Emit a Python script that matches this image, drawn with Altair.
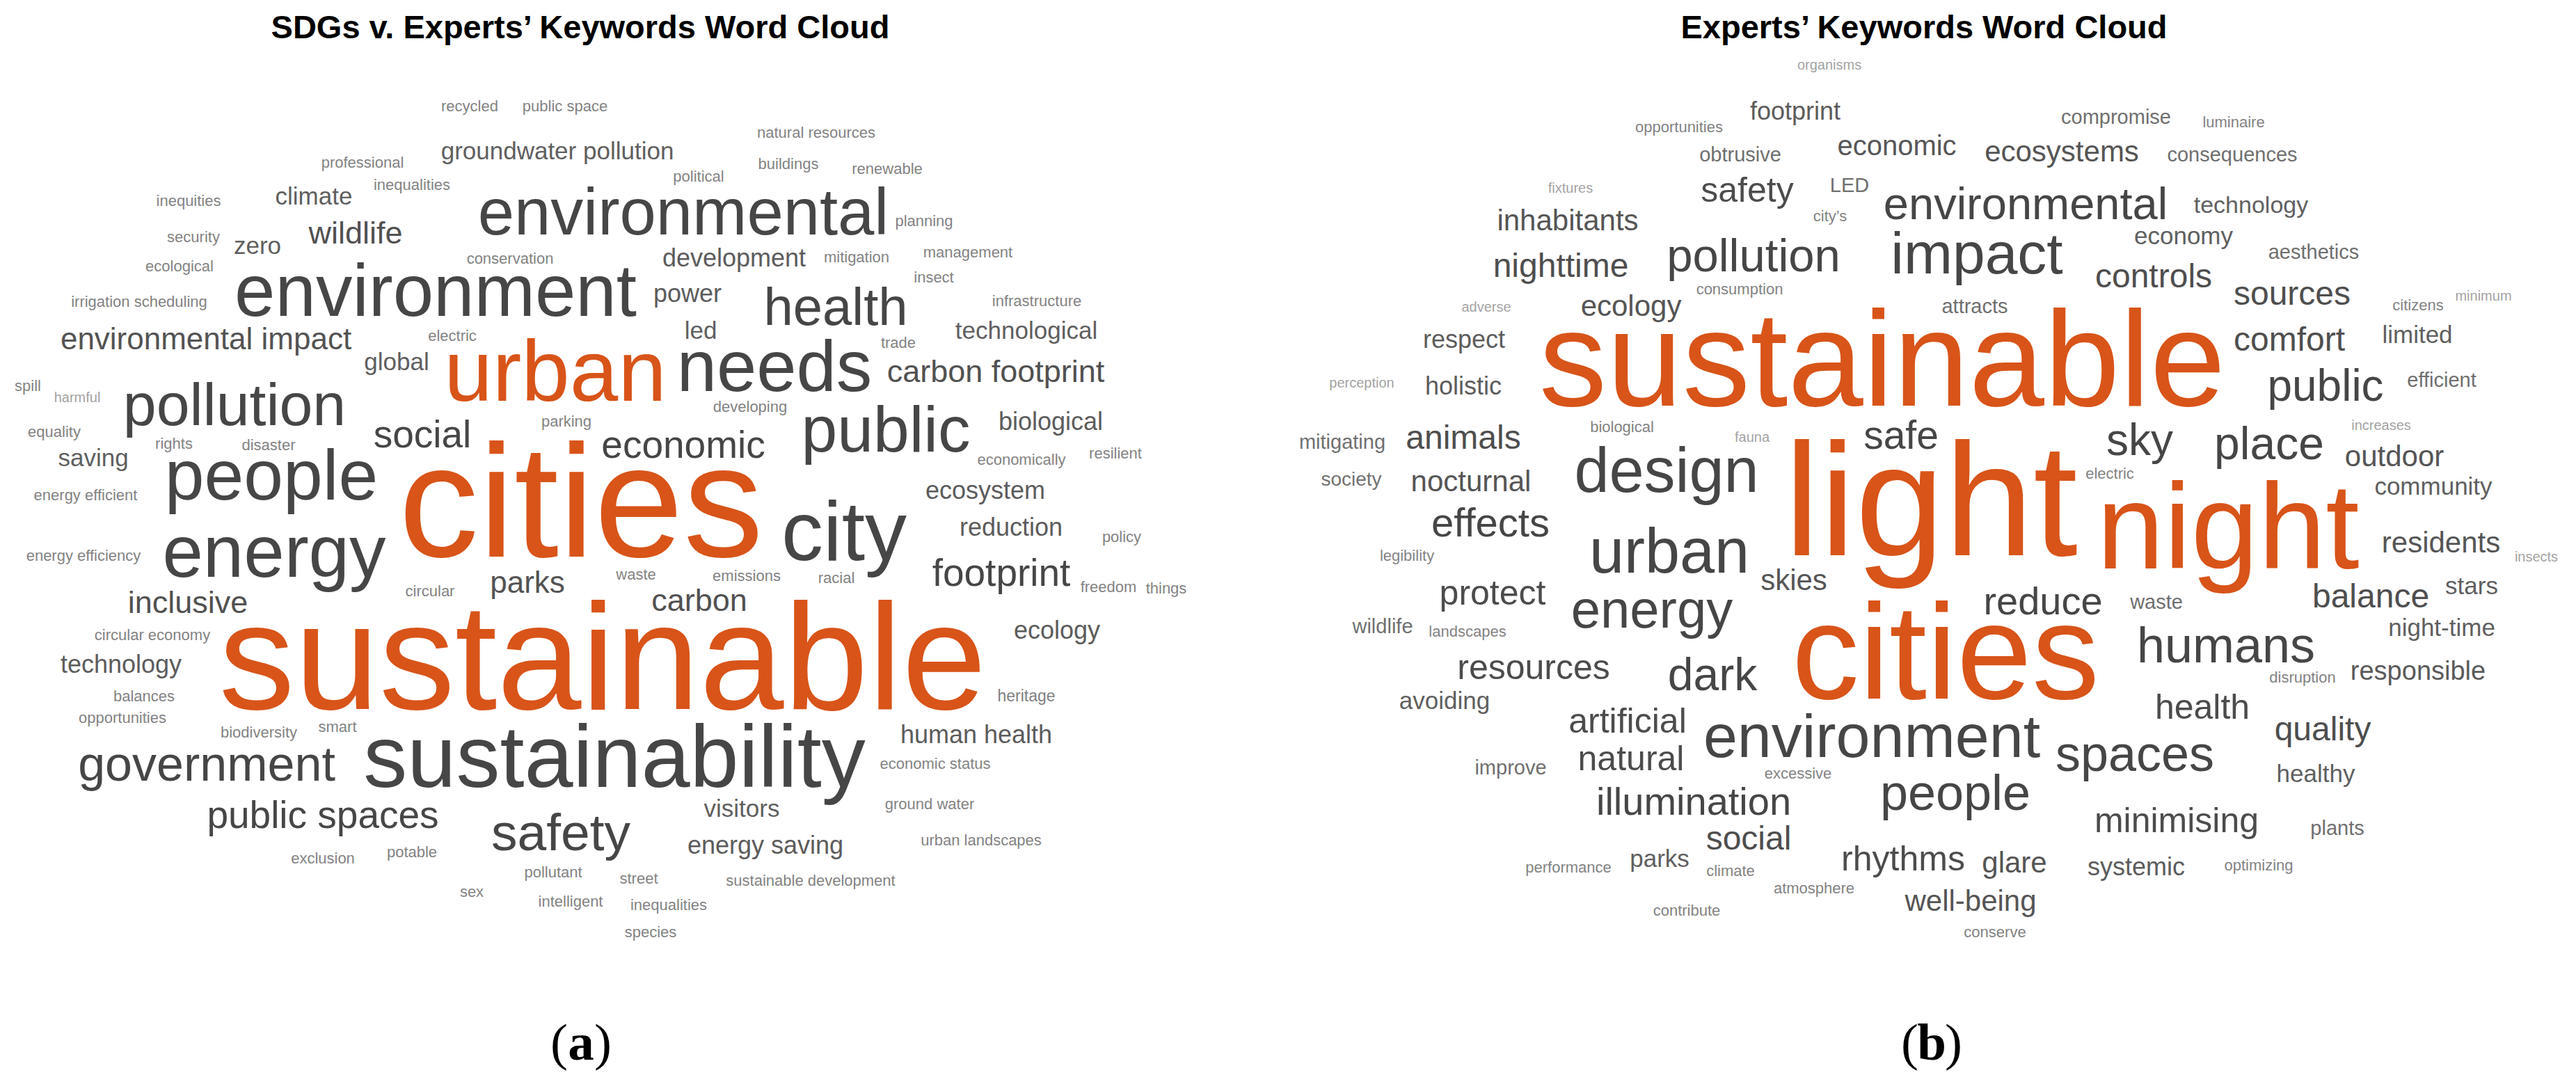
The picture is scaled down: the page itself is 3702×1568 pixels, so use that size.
import altair as alt
import pandas as pd

# ---------------- Panel (a): SDGs v. Experts' keywords ----------------
a_words = ["recycled", "public space", "groundwater pollution", "professional", "inequalities",
           "inequities", "climate", "environmental", "wildlife", "security", "zero", "ecological",
           "conservation", "environment", "irrigation scheduling", "environmental impact", "electric",
           "global", "urban", "spill", "harmful", "pollution", "parking", "social", "equality",
           "rights", "disaster", "saving", "people", "cities", "sustainable", "sustainability",
           "natural resources", "buildings", "renewable", "political", "planning", "development",
           "mitigation", "management", "insect", "power", "health", "infrastructure", "led",
           "technological", "trade", "needs", "carbon footprint", "developing", "public",
           "biological", "economic", "economically", "resilient", "ecosystem", "energy efficient",
           "energy efficiency", "energy", "circular", "parks", "inclusive", "circular economy",
           "technology", "balances", "opportunities", "biodiversity", "smart", "government",
           "public spaces", "safety", "exclusion", "potable", "pollutant", "sex", "intelligent",
           "city", "reduction", "policy", "waste", "emissions", "racial", "footprint", "freedom",
           "things", "carbon", "ecology", "heritage", "human health", "economic status", "visitors",
           "ground water", "energy saving", "urban landscapes", "street", "sustainable development",
           "inequalities", "species"]
a_x = [675, 812, 801, 521, 592, 271, 451, 982, 511, 278, 370, 258, 733, 626, 200, 296, 650, 570,
       798, 40, 111, 337, 814, 607, 78, 250, 386, 134, 390, 835, 866, 883, 1173, 1133, 1275, 1004,
       1328, 1055, 1231, 1391, 1342, 988, 1201, 1490, 1007, 1475, 1291, 1113, 1431, 1078, 1273,
       1510, 982, 1468, 1603, 1416, 123, 120, 394, 618, 758, 270, 219, 174, 207, 176, 372, 485,
       297, 464, 806, 464, 592, 795, 678, 820, 1213, 1453, 1612, 914, 1073, 1202, 1439, 1593,
       1676, 1005, 1519, 1475, 1403, 1344, 1066, 1336, 1100, 1410, 918, 1165, 961, 935]
a_y = [160, 160, 229, 241, 273, 296, 294, 337, 350, 348, 365, 390, 379, 454, 441, 502, 490, 532,
       576, 562, 578, 611, 613, 643, 628, 645, 647, 670, 718, 800, 1019, 1131, 198, 243, 250, 261,
       325, 383, 377, 370, 406, 434, 467, 440, 487, 487, 500, 562, 549, 592, 649, 618, 658, 668,
       659, 717, 719, 806, 829, 857, 852, 881, 920, 967, 1008, 1039, 1060, 1052, 1122, 1190, 1222,
       1241, 1232, 1261, 1289, 1303, 805, 770, 779, 833, 835, 838, 842, 851, 853, 878, 918, 1008,
       1068, 1105, 1174, 1163, 1227, 1215, 1270, 1273, 1308, 1347]
a_w = [22, 22, 35, 22, 22, 22, 35, 94, 45, 22, 35, 22, 22, 105, 22, 44, 22, 35, 125, 22, 20, 86,
       22, 55, 22, 22, 22, 35, 102, 230, 218, 126, 22, 22, 22, 22, 22, 36, 22, 22, 22, 36, 76, 22,
       35, 35, 22, 103, 45, 22, 93, 36, 55, 22, 22, 36, 22, 22, 105, 22, 44, 45, 22, 36, 22, 22,
       22, 22, 70, 55, 75, 22, 22, 22, 22, 22, 120, 36, 22, 22, 22, 22, 55, 22, 22, 45, 36, 23,
       36, 22, 35, 22, 36, 22, 22, 22, 22, 22]
a_accent = ["sustainable", "cities", "urban"]

# ---------------- Panel (b): Experts' keywords ----------------
b_words = ["organisms", "footprint", "opportunities", "obtrusive", "economic", "compromise",
           "luminaire", "ecosystems", "consequences", "fixtures", "safety", "LED", "city’s",
           "environmental", "technology", "inhabitants", "economy", "aesthetics", "impact",
           "nighttime", "pollution", "controls", "sources", "consumption", "adverse", "ecology",
           "attracts", "citizens", "minimum", "respect", "comfort", "limited", "sustainable",
           "perception", "holistic", "public", "efficient", "biological", "fauna", "increases",
           "mitigating", "animals", "safe", "sky", "place", "outdoor", "electric", "society",
           "nocturnal", "design", "community", "light", "night", "effects", "legibility", "urban",
           "residents", "insects", "skies", "stars", "protect", "reduce", "waste", "balance",
           "energy", "wildlife", "landscapes", "night-time", "humans", "resources", "dark",
           "disruption", "responsible", "cities", "avoiding", "health", "artificial", "quality",
           "environment", "natural", "improve", "excessive", "spaces", "healthy", "illumination",
           "people", "minimising", "plants", "social", "parks", "performance", "climate",
           "rhythms", "glare", "systemic", "optimizing", "atmosphere", "well-being", "contribute",
           "conserve"]
b_x = [2629, 2580, 2413, 2501, 2726, 3041, 3210, 2963, 3208, 2257, 2511, 2658, 2630, 2911, 3235,
       2253, 3138, 3325, 2841, 2243, 2520, 3095, 3294, 2500, 2136, 2344, 2838, 3475, 3569, 2104,
       3290, 3474, 2705, 1957, 2103, 3342, 3509, 2331, 2518, 3422, 1929, 2103, 2732, 3075, 3261,
       3441, 3032, 1942, 2114, 2395, 3497, 2775, 3202, 2142, 2022, 2399, 3508, 3645, 2578, 3552,
       2145, 2936, 3099, 3407, 2374, 1987, 2109, 3509, 3199, 2204, 2461, 3309, 3475, 2796, 2076,
       3165, 2339, 3338, 2690, 2344, 2171, 2584, 3068, 3328, 2434, 2810, 3128, 3359, 2513, 2385,
       2254, 2487, 2735, 2895, 3070, 3246, 2607, 2832, 2424, 2867]
b_y = [100, 172, 190, 232, 223, 178, 183, 232, 232, 277, 290, 276, 318, 315, 306, 331, 351, 372,
       393, 398, 390, 413, 438, 423, 448, 454, 450, 446, 432, 500, 504, 493, 583, 557, 567, 576,
       556, 621, 635, 618, 645, 645, 645, 654, 660, 670, 688, 698, 706, 707, 711, 798, 817, 771,
       806, 823, 794, 807, 848, 854, 869, 883, 875, 873, 902, 910, 915, 914, 952, 976, 992, 981,
       977, 1004, 1019, 1033, 1053, 1064, 1088, 1107, 1113, 1119, 1108, 1124, 1171, 1164, 1196,
       1200, 1221, 1246, 1254, 1259, 1251, 1254, 1258, 1251, 1284, 1309, 1316, 1347]
b_w = [20, 36, 22, 29, 40, 29, 22, 42, 29, 20, 50, 29, 22, 65, 34, 42, 35, 29, 84, 48, 67, 48,
       48, 22, 20, 42, 29, 22, 20, 36, 48, 35, 195, 20, 36, 64, 29, 22, 20, 20, 29, 48, 57, 64,
       66, 42, 22, 28, 42, 90, 35, 230, 174, 58, 22, 90, 42, 20, 42, 35, 50, 56, 29, 48, 76, 29,
       22, 35, 72, 50, 66, 22, 38, 194, 35, 50, 50, 48, 88, 50, 29, 22, 72, 35, 56, 72, 50, 29,
       48, 35, 22, 22, 50, 42, 36, 22, 22, 42, 22, 22]
b_accent = ["sustainable", "light", "night", "cities"]

# ---------------- Titles and panel labels ----------------
titles = ["SDGs v. Experts’ Keywords Word Cloud", "Experts’ Keywords Word Cloud"]
title_x = [834, 2765]
title_y = [55, 55]
labels = ["a", "b"]
label_x = [835, 2776]
label_y = [1523, 1523]

rows = []
for words, xs, ys, ws, acc in [(a_words, a_x, a_y, a_w, a_accent), (b_words, b_x, b_y, b_w, b_accent)]:
    for wd, x, y, w in zip(words, xs, ys, ws):
        rows.append({"word": wd, "x": x, "y": y, "w": w, "accent": wd in acc})
df = pd.DataFrame(rows)
df_grey = df[~df["accent"]]
df_acc = df[df["accent"]]
df_titles = pd.DataFrame({"t": titles, "x": title_x, "y": title_y})
df_labels = pd.DataFrame({"t": labels, "x": label_x, "y": label_y})

X = alt.X("x:Q", scale=alt.Scale(domain=[8, 3694]), axis=None)
Y = alt.Y("y:Q", scale=alt.Scale(domain=[8, 1560], reverse=True), axis=None)
S = alt.Size("w:Q", scale=alt.Scale(type="linear", domain=[0, 100], range=[0, 100]), legend=None)
FONT = "Liberation Sans"

grey = alt.Chart(df_grey).mark_text(font=FONT, align="center", baseline="alphabetic").encode(
    x=X, y=Y, size=S, text="word:N",
    color=alt.Color("w:Q", scale=alt.Scale(domain=[20, 22, 36, 55],
                                           range=["#a3a3a3", "#838383", "#5c5c5c", "#464646"],
                                           clamp=True), legend=None),
)
accent = alt.Chart(df_acc).mark_text(font=FONT, align="center", baseline="alphabetic",
                                     color="#D85419").encode(x=X, y=Y, size=S, text="word:N")
title_layer = alt.Chart(df_titles).mark_text(font=FONT, fontWeight="bold", fontSize=47,
                                             align="center", baseline="alphabetic",
                                             color="#000000").encode(x=X, y=Y, text="t:N")
LAB_FS = 75
lab_mid = alt.Chart(df_labels).mark_text(font="Liberation Serif", fontWeight="bold", fontSize=LAB_FS,
                                         align="center", baseline="alphabetic",
                                         color="#000000").encode(x=X, y=Y, text="t:N")
lab_left = alt.Chart(df_labels).mark_text(font="Liberation Serif", fontSize=LAB_FS, align="right",
                                          baseline="alphabetic", dx=-19, color="#000000",
                                          text="(").encode(x=X, y=Y)
lab_right = alt.Chart(df_labels).mark_text(font="Liberation Serif", fontSize=LAB_FS, align="left",
                                           baseline="alphabetic", dx=19, color="#000000",
                                           text=")").encode(x=X, y=Y)

chart = alt.layer(grey, accent, title_layer, lab_mid, lab_left, lab_right).properties(
    width=3686, height=1552, padding=0,
    autosize=alt.AutoSizeParams(type="fit", contains="padding"),
).configure_view(stroke=None)

chart.save("out.html", embed_options={"renderer": "svg", "actions": False})
